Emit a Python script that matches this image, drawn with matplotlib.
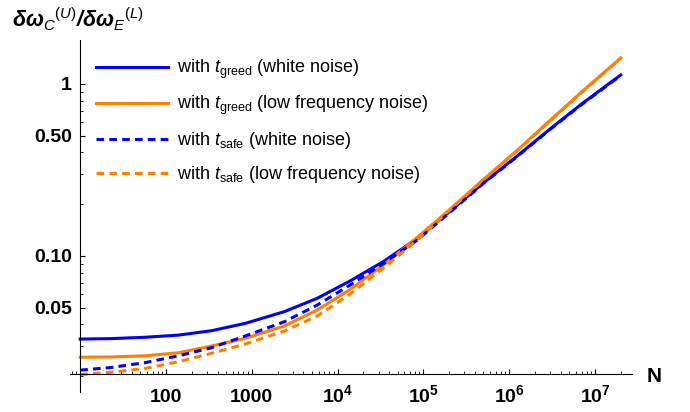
import matplotlib
matplotlib.use('Agg')
import matplotlib.pyplot as plt
from matplotlib.ticker import LogLocator, NullFormatter

plt.rcParams['font.family'] = 'Liberation Sans'
plt.rcParams['mathtext.fontset'] = 'custom'
plt.rcParams['mathtext.rm'] = 'Liberation Sans'
plt.rcParams['mathtext.it'] = 'Liberation Sans:italic'
plt.rcParams['mathtext.bf'] = 'Liberation Sans:bold'
plt.rcParams['mathtext.bfit'] = 'Liberation Sans:bold:italic'

# values
N = [10, 23, 57, 140, 340, 840, 2400, 5800, 1.4e4, 3.5e4, 8.5e4,
     2e5, 5e5, 1.2e6, 3e6, 7e6, 2e7]
greed_white = [0.0329, 0.0331, 0.0337, 0.0347, 0.0368, 0.0406, 0.0475, 0.0568,
               0.0716, 0.0935, 0.1267, 0.1803, 0.2657, 0.3763, 0.5475, 0.765, 1.128]
greed_lowfreq = [0.0258, 0.0259, 0.0263, 0.0274, 0.0300, 0.0332, 0.0392, 0.0485,
                 0.0639, 0.0893, 0.1284, 0.1851, 0.2785, 0.4051, 0.6136, 0.8985, 1.416]
safe_white = [0.0217, 0.0225, 0.0240, 0.0263, 0.0293, 0.0343, 0.0415, 0.0519,
              0.0678, 0.0911, 0.1239, 0.1778, 0.2639, 0.3737, 0.5443, 0.7599, 1.120]
safe_lowfreq = [0.0205, 0.0211, 0.0222, 0.0243, 0.0272, 0.0308, 0.0366, 0.0448,
                0.0601, 0.0857, 0.1239, 0.1838, 0.2766, 0.4024, 0.6095, 0.8924, 1.407]

labels = [r'with $t_{\mathrm{greed}}$ (white noise)',
          r'with $t_{\mathrm{greed}}$ (low frequency noise)',
          r'with $t_{\mathrm{safe}}$ (white noise)',
          r'with $t_{\mathrm{safe}}$ (low frequency noise)']

x_ticks = [100, 1000, 1e4, 1e5, 1e6, 1e7]
x_ticklabels = ['100', '1000', r'$\mathbf{10^{4}}$', r'$\mathbf{10^{5}}$',
                r'$\mathbf{10^{6}}$', r'$\mathbf{10^{7}}$']
y_ticks = [0.05, 0.1, 0.5, 1]
y_ticklabels = ['0.05', '0.10', '0.50', '1']

blue = '#0000ff'
orange = '#ff8000'

fig = plt.figure(figsize=(6.9, 4.12), dpi=100)
ax = fig.add_axes([0.1014, 0.0485, 0.8145, 0.8544])
ax.set_xscale('log')
ax.set_yscale('log')

lw = 2.2
dash = (2.5, 1.7)
ax.plot(N, greed_white, color=blue, lw=lw, label=labels[0])
ax.plot(N, greed_lowfreq, color=orange, lw=lw, label=labels[1])
ax.plot(N, safe_white, color=blue, lw=lw, dashes=dash, label=labels[2])
ax.plot(N, safe_lowfreq, color=orange, lw=lw, dashes=dash, label=labels[3])

ax.set_xlim(7.6, 2.7e7)
ax.set_ylim(0.0162, 1.8)

# axes cross at (10, 0.0205) like the original
for s in ['top', 'right']:
    ax.spines[s].set_visible(False)
ax.spines['left'].set_position(('data', 10))
ax.spines['bottom'].set_position(('data', 0.0205))
for s in ['left', 'bottom']:
    ax.spines[s].set_linewidth(0.8)

ax.set_xticks(x_ticks)
ax.set_xticklabels(x_ticklabels)
ax.set_yticks(y_ticks)
ax.set_yticklabels(y_ticklabels)
ax.xaxis.set_minor_locator(LogLocator(base=10, subs=range(2, 10), numticks=20))
ax.yaxis.set_minor_locator(LogLocator(base=10, subs=range(2, 10), numticks=20))
ax.xaxis.set_minor_formatter(NullFormatter())
ax.yaxis.set_minor_formatter(NullFormatter())

ax.tick_params(which='major', direction='in', length=3.6, width=0.8,
               labelsize=14)
ax.tick_params(which='minor', direction='in', length=2.2, width=0.6)
ax.tick_params(axis='x', which='major', pad=20)
ax.tick_params(axis='y', which='major', pad=6)
for t in ax.get_xticklabels():
    t.set_fontweight('bold')
    t.set_verticalalignment('baseline')
for t in ax.get_yticklabels():
    t.set_fontweight('bold')

ylab = (r'$\mathbfit{\delta\omega}_{C}{}^{(U)}\mathbfit{/}'
        r'\mathbfit{\delta\omega}_{E}{}^{(L)}$')
fig.text(12 / 690, 1 - 19 / 412, ylab, fontsize=15.5, va='center', ha='left')
fig.text(654 / 690, 1 - 377 / 412, 'N', fontsize=15, fontweight='bold',
         va='center', ha='center')

ax.legend(loc='upper left', bbox_to_anchor=(96 / 690, 1 - 58 / 412),
          bbox_transform=fig.transFigure, frameon=False, fontsize=13,
          handlelength=4.0, handletextpad=0.5, labelspacing=0.72,
          borderpad=0, borderaxespad=0)

fig.savefig('out.png', dpi=100)
